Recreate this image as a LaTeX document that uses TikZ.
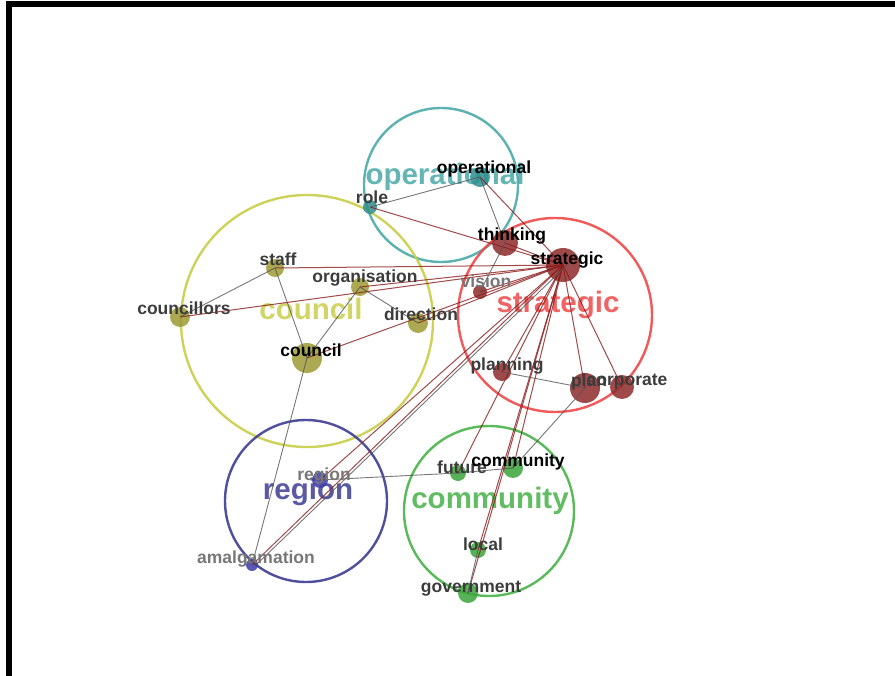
\documentclass[tikz,border=0pt]{standalone}
\usepackage{fontspec}
\setmainfont{Liberation Sans}
\usepackage{xcolor}
\definecolor{opcol}{HTML}{4AA8A8}
\definecolor{opdot}{HTML}{2E8E8E}
\definecolor{councol}{HTML}{C8CE48}
\definecolor{coundot}{HTML}{9C9A32}
\definecolor{stratcol}{HTML}{EE4848}
\definecolor{stratdot}{HTML}{8E2A2A}
\definecolor{regcol}{HTML}{3C3C94}
\definecolor{regdot}{HTML}{3C3CA8}
\definecolor{commcol}{HTML}{46B246}
\definecolor{commdot}{HTML}{3AA53A}
\definecolor{linkred}{HTML}{8B1C1C}
\definecolor{linkgray}{HTML}{555555}
\definecolor{termgray}{HTML}{3C3C3C}
\definecolor{termlight}{HTML}{777777}

\begin{document}
\begin{tikzpicture}[x=1pt,y=-1pt,
  dot/.style={circle,inner sep=0pt,opacity=.85},
  term/.style={anchor=base,inner sep=0pt,font=\bfseries\fontsize{17.5}{18}\selectfont,text=termgray},
  theme/.style={anchor=base,inner sep=0pt,font=\bfseries\fontsize{29.5}{30}\selectfont,opacity=.85},
  ring/.style={line width=2.4pt,opacity=.9},
  hot/.style={draw=linkred,line width=1pt,opacity=.8},
  cold/.style={draw=linkgray,line width=.9pt,opacity=.8}]
\useasboundingbox (0,0) rectangle (895,676);
\fill (6,1) rectangle (895,7);
\fill (6,1) rectangle (12,676);

% theme circles
\draw [ring,opcol] (441,185) circle[radius=77];
\draw [ring,councol] (307,321) circle[radius=126];
\draw [ring,stratcol] (555,315) circle[radius=97];
\draw [ring,regcol] (306,501) circle[radius=81];
\draw [ring,commcol] (489,511) circle[radius=85];

\node [theme,opcol] (operational-t) at (445,185) {operational};
\node [theme,councol] (council-t) at (311,320) {council};
\node [theme,stratcol] (strategic-t) at (558,313) {strategic};
\node [theme,regcol] (region-t) at (308,500) {region};
\node [theme,commcol] (community-t) at (490,508) {community};

% concepts
\node [dot,fill=opdot,minimum size=20] (operational) at (480,177) {};
\node [dot,fill=opdot,minimum size=14] (role) at (370,207) {};

\node [dot,fill=stratdot,minimum size=26] (thinking) at (505,243) {};
\node [dot,fill=stratdot,minimum size=34] (strategic) at (563,265) {};
\node [dot,fill=stratdot,minimum size=14] (vision) at (480,292) {};
\node [dot,fill=stratdot,minimum size=18] (planning) at (502,372) {};
\node [dot,fill=stratdot,minimum size=30] (plan) at (585,388) {};
\node [dot,fill=stratdot,minimum size=24] (corporate) at (622,387) {};

\node [dot,fill=coundot,minimum size=18] (staff) at (275,268) {};
\node [dot,fill=coundot,minimum size=18] (organisation) at (360,287) {};
\node [dot,fill=coundot,minimum size=20] (councillors) at (180,317) {};
\node [dot,fill=coundot,minimum size=20] (direction) at (418,323) {};
\node [dot,fill=coundot,minimum size=30] (council) at (307,358) {};

\node [dot,fill=regdot,minimum size=16] (region) at (320,480) {};
\node [dot,fill=regdot,minimum size=12] (amalgamation) at (252,565) {};

\node [dot,fill=commdot,minimum size=16] (future) at (458,473) {};
\node [dot,fill=commdot,minimum size=20] (community) at (513,468) {};
\node [dot,fill=commdot,minimum size=16] (local) at (478,550) {};
\node [dot,fill=commdot,minimum size=20] (government) at (468,593) {};

% links to strategic
\draw [hot] (role.center) -- (strategic.center);
\draw [hot] (operational.center) -- (strategic.center);
\draw [hot] (thinking.center) -- (strategic.center);
\draw [hot] (vision.center) -- (strategic.center);
\draw [hot] (staff.center) -- (strategic.center);
\draw [hot] (organisation.center) -- (strategic.center);
\draw [hot] (councillors.center) -- (strategic.center);
\draw [hot] (direction.center) -- (strategic.center);
\draw [hot] (council.center) -- (strategic.center);
\draw [hot] (region.center) -- (strategic.center);
\draw [hot] (amalgamation.center) -- (strategic.center);
\draw [hot] (planning.center) -- (strategic.center);
\draw [hot] (plan.center) -- (strategic.center);
\draw [hot] (corporate.center) -- (strategic.center);
\draw [hot] (future.center) -- (strategic.center);
\draw [hot] (community.center) -- (strategic.center);
\draw [hot] (local.center) -- (strategic.center);
\draw [hot] (government.center) -- (strategic.center);

% other links
\draw [cold] (role.center) -- (operational.center);
\draw [cold] (operational.center) -- (thinking.center);
\draw [cold] (thinking.center) -- (vision.center);
\draw [cold] (councillors.center) -- (staff.center);
\draw [cold] (staff.center) -- (council.center);
\draw [cold] (organisation.center) -- (council.center);
\draw [cold] (organisation.center) -- (direction.center);
\draw [cold] (council.center) -- (amalgamation.center);
\draw [cold] ([xshift=4]amalgamation.center) -- ([xshift=4]strategic.center);
\draw [cold] (region.center) -- (future.center);
\draw [cold] (future.center) -- (community.center);
\draw [cold] (community.center) -- (plan.center);
\draw [cold] (planning.center) -- (plan.center);
\draw [cold] (government.center) -- (local.center);

% labels
\node [term,text=black] (operational-l) at (484,174) {operational};
\node [term] (role-l) at (372,204) {role};
\node [term,text=black] (thinking-l) at (512,241) {thinking};
\node [term,text=black] (strategic-l) at (567,265) {strategic};
\node [term,text=termlight] (vision-l) at (486,288) {vision};
\node [term] (planning-l) at (507,371) {planning};
\node [term] (plan-l) at (589,387) {plan};
\node [term] (corporate-l) at (627,386) {corporate};
\node [term] (staff-l) at (278,266) {staff};
\node [term] (organisation-l) at (365,283) {organisation};
\node [term] (councillors-l) at (184,315) {councillors};
\node [term] (direction-l) at (421,321) {direction};
\node [term,text=black] (council-l) at (311,357) {council};
\node [term,text=termlight] (region-l) at (324,480) {region};
\node [term,text=termlight] (amalgamation-l) at (256,563) {amalgamation};
\node [term] (future-l) at (462,474) {future};
\node [term,text=black] (community-l) at (518,466) {community};
\node [term] (local-l) at (483,550) {local};
\node [term] (government-l) at (471,592) {government};
\end{tikzpicture}
\end{document}
